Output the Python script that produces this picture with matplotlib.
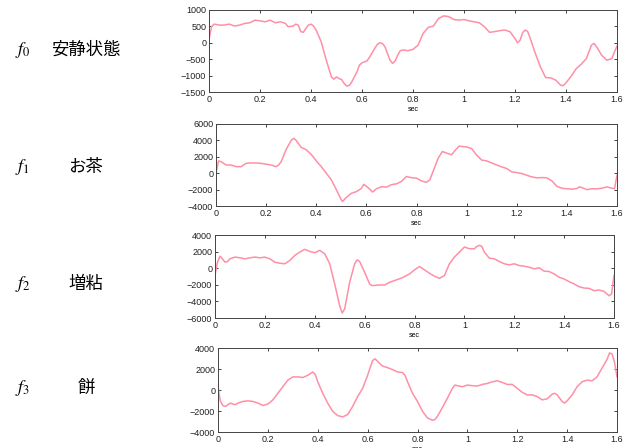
import matplotlib
matplotlib.use("Agg")
import matplotlib.pyplot as plt

plt.rcParams['font.family'] = ['Liberation Sans', 'DejaVu Sans']
plt.rcParams['mathtext.fontset'] = 'stix'
plt.rcParams['axes.unicode_minus'] = True

# labels for the four signals
names = ['安静状態', 'お茶', '増粘', '餅']

# f0 : resting state
t0 = [0, 0.01, 0.02, 0.04, 0.06, 0.08, 0.1, 0.12, 0.14, 0.16, 0.18, 0.2, 0.22, 0.24, 0.26,
      0.28, 0.3, 0.31, 0.33, 0.34, 0.35, 0.36, 0.37, 0.38, 0.39, 0.4, 0.41, 0.42, 0.44, 0.46,
      0.48, 0.49, 0.5, 0.51, 0.52, 0.53, 0.54, 0.55, 0.56, 0.58, 0.59, 0.6, 0.62, 0.63, 0.65,
      0.66, 0.67, 0.68, 0.69, 0.7, 0.71, 0.72, 0.73, 0.74, 0.75, 0.76, 0.78, 0.8, 0.82, 0.84,
      0.86, 0.88, 0.9, 0.92, 0.94, 0.96, 0.98, 1.0, 1.02, 1.04, 1.06, 1.08, 1.1, 1.12, 1.14,
      1.16, 1.18, 1.2, 1.21, 1.22, 1.23, 1.24, 1.25, 1.26, 1.28, 1.3, 1.32, 1.34, 1.36, 1.38,
      1.39, 1.4, 1.42, 1.44, 1.46, 1.48, 1.5, 1.51, 1.52, 1.54, 1.56, 1.58, 1.59, 1.6]
v0 = [100, 490, 570, 540, 540, 570, 510, 540, 590, 610, 690, 670, 640, 690, 610,
      640, 590, 490, 510, 570, 540, 340, 320, 440, 540, 570, 510, 390, 30, -530,
      -1040, -1110, -1040, -1090, -1120, -1240, -1320, -1300, -1190, -890, -680, -610, -550, -430, -170,
      -50, 0, -20, -120, -330, -530, -630, -550, -380, -240, -220, -240, -200, -70, 290,
      470, 510, 740, 820, 800, 710, 690, 710, 670, 640, 610, 490, 320, 340, 370,
      390, 340, 130, 0, 80, 310, 390, 340, 130, -330, -740, -1060, -1070, -1140, -1300,
      -1300, -1220, -1020, -790, -650, -480, -70, -20, -120, -380, -530, -480, -280, -100]

# f1 : tea
t1 = [0, 0.01, 0.02, 0.03, 0.04, 0.06, 0.08, 0.1, 0.12, 0.14, 0.16, 0.18, 0.2, 0.22, 0.24,
      0.25, 0.26, 0.28, 0.3, 0.31, 0.32, 0.34, 0.36, 0.38, 0.4, 0.42, 0.44, 0.46, 0.48, 0.5,
      0.505, 0.52, 0.54, 0.56, 0.58, 0.59, 0.61, 0.625, 0.64, 0.66, 0.68, 0.7, 0.72, 0.74, 0.76,
      0.78, 0.8, 0.82, 0.84, 0.853, 0.866, 0.886, 0.903, 0.92, 0.94, 0.956, 0.97, 1.0, 1.02, 1.04,
      1.06, 1.08, 1.1, 1.12, 1.14, 1.16, 1.18, 1.2, 1.22, 1.24, 1.26, 1.28, 1.3, 1.32, 1.34,
      1.36, 1.38, 1.4, 1.42, 1.44, 1.45, 1.46, 1.48, 1.5, 1.52, 1.54, 1.56, 1.58, 1.59, 1.6]
v1 = [0, 1500, 1400, 1200, 1000, 1000, 800, 800, 1200, 1250, 1250, 1200, 1100, 1000, 800,
      1000, 1400, 2900, 4000, 4250, 4000, 3150, 2850, 2300, 1500, 800, 0, -800, -2000, -3250,
      -3450, -2950, -2450, -2250, -1850, -1350, -1850, -2300, -1900, -1650, -1700, -1400, -1300, -1000, -400,
      -550, -600, -950, -1100, -800, 200, 1800, 2650, 2450, 2250, 2850, 3300, 3200, 3000, 2200,
      1600, 1500, 1250, 1000, 770, 570, 160, 80, -40, -250, -450, -570, -530, -570, -930,
      -1600, -1830, -1900, -1950, -1870, -1670, -1750, -2000, -1900, -1900, -1830, -1670, -1830, -1900, -250]

# f2 : thickened
t2 = [0, 0.005, 0.01, 0.02, 0.03, 0.04, 0.05, 0.06, 0.08, 0.1, 0.12, 0.14, 0.16, 0.18, 0.2,
      0.22, 0.24, 0.26, 0.28, 0.3, 0.32, 0.34, 0.36, 0.38, 0.4, 0.42, 0.44, 0.46, 0.48, 0.5,
      0.51, 0.52, 0.54, 0.56, 0.57, 0.58, 0.6, 0.62, 0.63, 0.66, 0.68, 0.7, 0.75, 0.78, 0.8,
      0.82, 0.84, 0.86, 0.88, 0.9, 0.92, 0.94, 0.96, 0.98, 1.0, 1.02, 1.04, 1.05, 1.06, 1.07,
      1.08, 1.1, 1.12, 1.14, 1.16, 1.18, 1.2, 1.22, 1.24, 1.26, 1.28, 1.3, 1.32, 1.34, 1.36,
      1.38, 1.4, 1.42, 1.44, 1.46, 1.48, 1.5, 1.52, 1.54, 1.56, 1.58, 1.59, 1.6]
v2 = [-900, 0, 730, 1450, 1130, 730, 810, 1130, 1340, 1250, 1130, 1250, 1340, 1250, 1340,
      1130, 730, 600, 530, 930, 1540, 1940, 2270, 2020, 1860, 2150, 1740, 530, -1900, -4530,
      -5400, -4900, -1700, 530, 1010, 810, -490, -1900, -2100, -2020, -2020, -1700, -1170, -690, -200,
      200, -200, -610, -970, -1210, -890, 530, 1340, 1940, 2550, 2350, 2350, 2630, 2750, 2630,
      1940, 1210, 1130, 810, 530, 400, 530, 320, 240, 120, -80, 40, -360, -400, -690,
      -1090, -1300, -1620, -1900, -2230, -2390, -2430, -2710, -2630, -2790, -3320, -3120, -890]

# f3 : rice cake
t3 = [0, 0.005, 0.01, 0.02, 0.03, 0.04, 0.05, 0.06, 0.07, 0.08, 0.1, 0.12, 0.14, 0.16, 0.18,
      0.2, 0.22, 0.24, 0.26, 0.28, 0.3, 0.32, 0.34, 0.36, 0.38, 0.39, 0.4, 0.42, 0.44, 0.46,
      0.48, 0.5, 0.52, 0.54, 0.56, 0.58, 0.6, 0.62, 0.63, 0.64, 0.66, 0.68, 0.7, 0.72, 0.74,
      0.75, 0.76, 0.78, 0.8, 0.82, 0.84, 0.86, 0.87, 0.88, 0.9, 0.92, 0.94, 0.95, 0.96, 0.98,
      1.0, 1.02, 1.04, 1.06, 1.08, 1.1, 1.12, 1.14, 1.16, 1.18, 1.2, 1.22, 1.24, 1.26, 1.28,
      1.3, 1.32, 1.34, 1.35, 1.36, 1.38, 1.39, 1.4, 1.42, 1.44, 1.46, 1.48, 1.5, 1.52, 1.54,
      1.56, 1.57, 1.58, 1.59, 1.6]
v3 = [470, -470, -1090, -1500, -1560, -1400, -1250, -1340, -1400, -1250, -1090, -1030, -1090, -1250, -1470,
      -1340, -940, -310, 310, 940, 1250, 1250, 1190, 1400, 1720, 1470, 780, -310, -1250, -2030,
      -2440, -2560, -2340, -1560, -625, 160, 1400, 2810, 2970, 2720, 2280, 2130, 1940, 1720, 1660,
      1400, 780, -310, -1090, -2030, -2660, -2880, -2810, -2500, -1660, -780, 160, 470, 410, 310,
      470, 410, 380, 530, 625, 780, 880, 720, 530, 530, 160, -220, -470, -470, -625,
      -940, -840, -400, -310, -470, -1090, -1250, -1030, -470, 310, 780, 940, 880, 1250, 2090,
      2910, 3530, 3440, 2660, 1250]

times = [t0, t1, t2, t3]
values = [v0, v1, v2, v3]
ylims = [(-1500, 1000), (-4000, 6000), (-6000, 4000), (-4000, 4000)]
ysteps = [500, 2000, 2000, 2000]

# axes rectangles in figure pixels: left, top, right, bottom
boxes = [(209, 10, 617, 92), (216, 124, 617, 206), (215, 235, 614, 318), (218, 348, 617, 432)]
label_y = [50, 167, 284, 388]

W, H = 634, 448
fig = plt.figure(figsize=(W / 100, H / 100), dpi=100)

for i in range(4):
    l, t, r, b = boxes[i]
    ax = fig.add_axes([l / W, 1 - b / H, (r - l) / W, (b - t) / H])
    ax.plot(times[i], values[i], color='#ff8fa6', lw=1.1, solid_joinstyle='round')
    ax.set_xlim(0, 1.6)
    lo, hi = ylims[i]
    ax.set_ylim(lo, hi)
    ax.set_yticks(range(lo, hi + 1, ysteps[i]))
    ax.set_xticks([0, 0.2, 0.4, 0.6, 0.8, 1.0, 1.2, 1.4, 1.6])
    ax.set_xticklabels(['0', '0.2', '0.4', '0.6', '0.8', '1', '1.2', '1.4', '1.6'])
    ax.tick_params(direction='in', top=True, right=True, length=2.5, width=0.6,
                   labelsize=6.5, pad=2, colors='#222222')
    for s in ax.spines.values():
        s.set_linewidth(0.7)
        s.set_color('#444444')
    ax.set_xlabel('sec', fontsize=5, labelpad=1.5)

    fig.text(15 / W, 1 - label_y[i] / H, '$f_{%d}$' % i, fontsize=13,
             ha='left', va='center')
    fig.text(86 / W, 1 - label_y[i] / H, names[i], fontsize=12.5,
             family=['Noto Sans CJK JP', 'DejaVu Sans'], ha='center', va='center')

fig.savefig('out.png', dpi=100)
